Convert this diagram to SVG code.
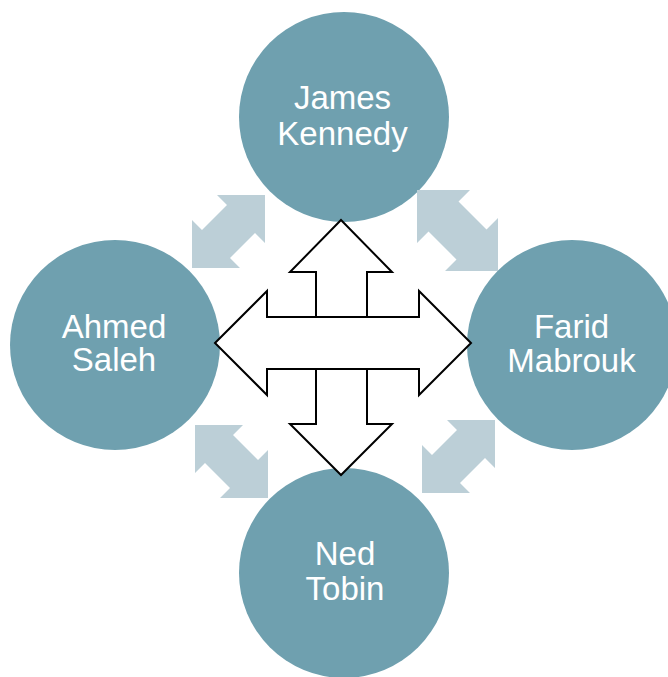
<svg xmlns="http://www.w3.org/2000/svg" width="668" height="677" viewBox="0 0 668 677">
  <style>
    .node { fill: #6fa0af; }
    .lbl { fill: #ffffff; font-family: "Liberation Sans", Arial, sans-serif; font-size: 33px; text-anchor: middle; }
    .diag { fill: #bccfd7; }
    .cross { fill: #ffffff; stroke: #000000; stroke-width: 2; stroke-linejoin: miter; }
  </style>
  <rect width="668" height="677" fill="#ffffff"/>
  <g id="node-james">
    <circle class="node" cx="344" cy="117" r="105"/>
    <text class="lbl" x="342.5" y="108.5">James</text>
    <text class="lbl" x="342.5" y="145">Kennedy</text>
  </g>
  <g id="node-ahmed">
    <circle class="node" cx="115" cy="345" r="105"/>
    <text class="lbl" x="114" y="337.5">Ahmed</text>
    <text class="lbl" x="114" y="371">Saleh</text>
  </g>
  <g id="node-farid">
    <circle class="node" cx="572" cy="345" r="105"/>
    <text class="lbl" x="571.5" y="337.5">Farid</text>
    <text class="lbl" x="571.5" y="371.5">Mabrouk</text>
  </g>
  <g id="node-ned">
    <circle class="node" cx="344" cy="573" r="105"/>
    <text class="lbl" x="345" y="565">Ned</text>
    <text class="lbl" x="345" y="599.5">Tobin</text>
  </g>
  <g id="connectors">
    <polygon class="diag" points="265,195 265,243 255,233 230,258 240,268 192,268 192,220 202,230 227,205 217,195"/>
    <polygon class="diag" points="417,190 417,243 428.5,231.5 456.5,259.5 445,271 498,271 498,218 486.5,229.5 458.5,201.5 470,190"/>
    <polygon class="diag" points="195,425 195,473 205,463 230,488 220,498 268,498 268,450 258,460 233,435 243,425"/>
    <polygon class="diag" points="495,420 495,468 485,458 460,483 470,493 422,493 422,445 432,455 457,430 447,420"/>
    <polygon class="cross" points="341,220 392,272 367,272 367,424 392,424 341,475 290,424 316,424 316,272 290,272"/>
    <polygon class="cross" points="215,343 267,291 267,317 419,317 419,291 471,343 419,395 419,369 267,369 267,395"/>
  </g>
</svg>
